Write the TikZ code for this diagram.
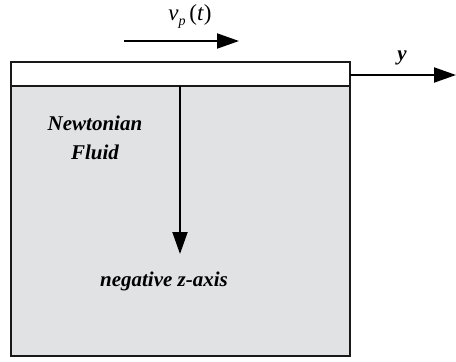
\documentclass[tikz,border=0pt]{standalone}
\usepackage{fontspec}
\setmainfont{Liberation Serif}
\usetikzlibrary{arrows.meta}
\definecolor{fluidgray}{RGB}{225,226,228}
\tikzset{
  boxline/.style={draw=black!90, line width=2pt},
  arr/.style={line width=2pt, -{Triangle[length=22pt,width=15pt]}},
  lbl/.style={font=\fontsize{21}{29}\selectfont\bfseries\itshape, inner sep=0pt, align=center}
}
\begin{document}
\begin{tikzpicture}[x=1pt,y=-1pt]
\useasboundingbox (0,0) rectangle (456,362);
% fluid and plate
\coordinate (pl) at (11,62);
\coordinate (pr) at (350,86);
\coordinate (fb) at (350,356);
\filldraw[boxline, fill=fluidgray] (11,86) rectangle (fb);
\filldraw[boxline, fill=white] (pl) rectangle (pr);
% velocity arrow
\coordinate (vs) at (124,41);
\coordinate (ve) at (239,41);
\draw[arr] (vs) -- (ve);
\node[inner sep=0pt, font=\fontsize{23}{26}\selectfont] (vp) at (190,17) {\textit{v}\raisebox{-5pt}{\fontsize{14}{15}\selectfont\textit{p}}\,(\textit{t})};
% y axis
\coordinate (ys) at (350,75);
\coordinate (ye) at (456,75);
\draw[arr] (ys) -- (ye);
\node[lbl] (ylab) at (402,58) {y};
% z axis
\coordinate (zs) at (180,86);
\coordinate (ze) at (180,254);
\draw[arr] (zs) -- (ze);
\node[lbl] (fluid) at (95,138) {Newtonian\\Fluid};
\node[lbl] (zlab) at (164,281) {negative z-axis};
\end{tikzpicture}
\end{document}
